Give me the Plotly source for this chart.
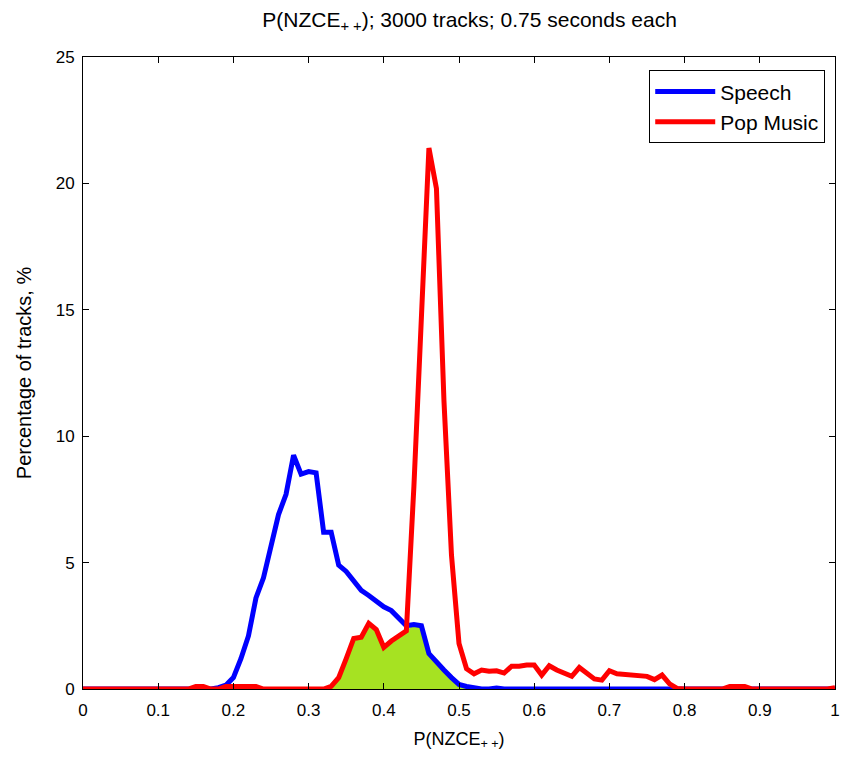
import numpy as np
import plotly.graph_objects as go

# Bin positions of P(NZCE++) (0.01 steps from 0 to 1)
x_bins = [round(i * 0.01, 2) for i in range(101)]

# Speech: percentage of tracks per bin (non-zero part starts at 0.18)
speech_start = 0.18
speech_vals = [0.05, 0.15, 0.45, 1.2, 2.1, 3.6, 4.4, 5.6, 6.9, 7.7,
               9.25, 8.5, 8.6, 8.55, 6.2, 6.2, 4.9, 4.65, 4.3, 3.9,
               3.7, 3.45, 3.25, 3.1, 2.8, 2.5, 2.55, 2.5, 1.4, 1.05,
               0.75, 0.45, 0.18, 0.1, 0.05, 0.0, 0.0, 0.04]

# Pop music: percentage of tracks per bin (non-zero part starts at 0.15)
pop_start = 0.15
pop_vals = [0.1, 0.1, 0.0, 0.0, 0.1, 0.1, 0.1, 0.1, 0.1, 0.0,
            0.0, 0.0, 0.0, 0.0, 0.0, 0.0, 0.0, 0.0, 0.1, 0.45,
            1.2, 2.0, 2.05, 2.6, 2.35, 1.65, 1.9, 2.1, 2.3, 8.0,
            14.5, 21.4, 19.8, 11.4, 5.3, 1.8, 0.8, 0.6, 0.75, 0.7,
            0.72, 0.63, 0.9, 0.9, 0.95, 0.95, 0.55, 0.92, 0.75, 0.6,
            0.5, 0.85, 0.6, 0.4, 0.35, 0.72, 0.6, 0.57, 0.55, 0.52,
            0.5, 0.37, 0.55, 0.2, 0.02, 0.0, 0.0, 0.0, 0.0, 0.0,
            0.0, 0.1, 0.1, 0.1, 0.0, 0.0, 0.0, 0.0, 0.0, 0.0,
            0.0, 0.0, 0.0, 0.0, 0.0, 0.05]

x_ticks = [round(i * 0.1, 1) for i in range(11)]
x_tick_labels = ["0", "0.1", "0.2", "0.3", "0.4", "0.5", "0.6", "0.7", "0.8", "0.9", "1"]
y_ticks = [0, 5, 10, 15, 20, 25]


def full_series(start, vals):
    arr = np.zeros(len(x_bins))
    i0 = int(round(start * 100))
    arr[i0:i0 + len(vals)] = vals
    return arr


x = np.array(x_bins)
speech = full_series(speech_start, speech_vals)
pop = full_series(pop_start, pop_vals)

# Overlap region between the two distributions
overlap = np.minimum(speech, pop)
mask = (x >= 0.32) & (x <= 0.54)

fig = go.Figure()
fig.add_trace(go.Scatter(
    x=x[mask], y=overlap[mask], mode="lines", fill="tozeroy",
    fillcolor="rgb(166,226,34)", line=dict(width=0, color="rgb(166,226,34)"),
    showlegend=False, hoverinfo="skip"))
fig.add_trace(go.Scatter(
    x=x, y=speech, mode="lines", name="Speech",
    line=dict(color="rgb(0,0,255)", width=5)))
fig.add_trace(go.Scatter(
    x=x, y=pop, mode="lines", name="Pop Music",
    line=dict(color="rgb(255,0,0)", width=5)))

axis_common = dict(
    showline=True, linecolor="black", linewidth=1, mirror="allticks",
    ticks="inside", ticklen=6, tickcolor="black", showgrid=False, zeroline=False,
    tickfont=dict(family="Liberation Sans, Arial, sans-serif", size=17, color="black"),
)

fig.update_layout(
    width=845, height=758,
    margin=dict(l=83, r=5, t=57, b=69),
    paper_bgcolor="white", plot_bgcolor="white",
    font=dict(family="Liberation Sans, Arial, sans-serif", color="black"),
    title=dict(text="P(NZCE<sub>+ +</sub>); 3000 tracks; 0.75 seconds each",
               xref="paper", x=0.514, xanchor="center", y=0.974, yanchor="middle",
               font=dict(size=21, color="black")),
    xaxis=dict(range=[0, 1], tickvals=x_ticks, ticktext=x_tick_labels,
               ticklabelstandoff=6,
               title=dict(text="P(NZCE<sub>+ +</sub>)", font=dict(size=18), standoff=12),
               **axis_common),
    yaxis=dict(range=[0, 25], tickvals=y_ticks, ticklabelstandoff=4,
               title=dict(text="Percentage of tracks, %", font=dict(size=20), standoff=18),
               **axis_common),
    legend=dict(x=0.987, y=0.979, xanchor="right", yanchor="top",
                bgcolor="white", bordercolor="black", borderwidth=1,
                font=dict(size=21, color="black"), tracegroupgap=0,
                itemwidth=60),
    showlegend=True,
)

fig.write_html("out.html")
